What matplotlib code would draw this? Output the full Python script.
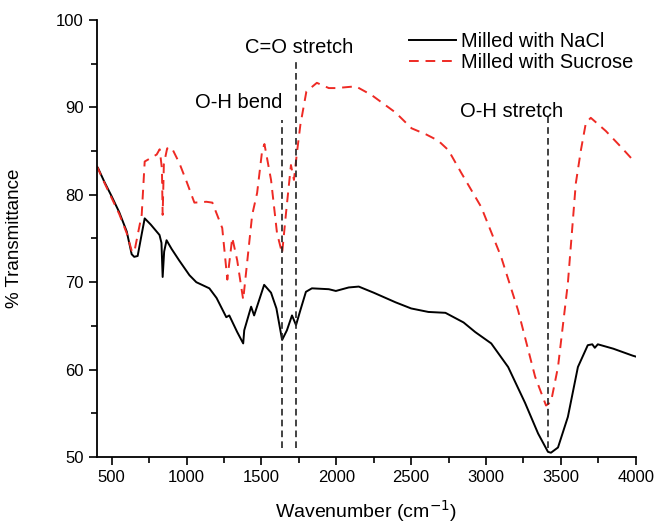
import matplotlib.pyplot as plt
from matplotlib.ticker import MultipleLocator

plt.rcParams['font.family'] = ['Liberation Sans', 'DejaVu Sans']

# Milled with NaCl (black)
nacl_x = [400, 407, 450, 500, 550, 600, 633, 650, 673, 700, 720, 760, 819, 832, 840, 850, 866,
          900, 950, 1019, 1065, 1152, 1200, 1265, 1285, 1338, 1378, 1385, 1431, 1451, 1518,
          1564, 1600, 1638, 1670, 1704, 1731, 1760, 1797, 1837, 1950, 1997, 2083, 2150, 2250,
          2396, 2500, 2615, 2729, 2850, 2928, 3035, 3148, 3261, 3348, 3414, 3434, 3481, 3547,
          3614, 3680, 3710, 3727, 3747, 3850, 3980, 4000]
nacl_y = [83.2, 83.1, 81.5, 79.8, 78.0, 75.8, 73.2, 72.9, 73.0, 75.5, 77.3, 76.6, 75.4, 74.5, 70.6,
          73.5, 74.8, 73.8, 72.5, 70.8, 70.0, 69.3, 68.2, 66.0, 66.2, 64.3, 63.0, 64.5, 67.2,
          66.2, 69.7, 68.8, 67.0, 63.4, 64.5, 66.2, 65.1, 66.8, 68.9, 69.3, 69.2, 69.0, 69.4,
          69.5, 68.8, 67.7, 67.0, 66.6, 66.5, 65.4, 64.3, 63.0, 60.3, 56.2, 52.7, 50.6, 50.5,
          51.1, 54.6, 60.3, 62.8, 62.9, 62.5, 62.9, 62.4, 61.6, 61.5]

# Milled with Sucrose (red dashed)
suc_x = [400, 450, 500, 550, 600, 633, 650, 680, 700, 720, 760, 800, 820, 835, 840, 848, 870,
         900, 952, 1000, 1052, 1132, 1172, 1238, 1272, 1305, 1338, 1378, 1438, 1471, 1505,
         1520, 1564, 1604, 1638, 1664, 1697, 1717, 1737, 1760, 1800, 1870, 1950, 2000, 2130,
         2236, 2396, 2503, 2600, 2680, 2749, 2835, 2968, 3101, 3214, 3328, 3401, 3434, 3481,
         3547, 3600, 3634, 3667, 3700, 3800, 3900, 3980, 4000]
suc_y = [83.3, 81.4, 79.6, 77.8, 75.6, 73.6, 73.4, 76.0, 77.7, 83.8, 84.2, 84.6, 85.2, 83.0, 77.7,
         83.5, 85.3, 85.4, 83.6, 81.5, 79.1, 79.2, 79.1, 76.2, 70.3, 75.1, 72.5, 68.0, 77.7,
         80.2, 85.1, 85.8, 81.7, 75.6, 73.3, 77.9, 83.4, 81.7, 84.8, 88.0, 91.8, 92.8, 92.2,
         92.2, 92.4, 91.4, 89.4, 87.6, 86.9, 86.2, 85.1, 82.5, 78.6, 72.9, 66.8, 59.2, 55.9,
         56.3, 60.3, 69.9, 81.3, 85.1, 88.2, 88.8, 87.3, 85.5, 84.0, 83.7]

# marker lines: wavenumber, top of line
mark_x = [1638, 1731, 3414]
mark_top = [88.6, 95.4, 89.0]
mark_bottom = 51

fig = plt.figure(figsize=(6.54, 5.23), dpi=100)
ax = fig.add_axes([0.148, 0.126, 0.824, 0.836])

ax.plot(nacl_x, nacl_y, color='black', lw=1.4, label='Milled with NaCl')
ax.plot(suc_x, suc_y, color='#ee2a24', lw=1.4, linestyle=(0, (5, 3.5)), label='Milled with Sucrose')

for x, top in zip(mark_x, mark_top):
    ax.plot([x, x], [mark_bottom, top], color='#222222', lw=1.2, linestyle=(0, (4, 2.5)))

ax.text(1638, 90.6, 'O-H bend', ha='right', va='center', fontsize=14.5)
ax.text(1750, 96.8, 'C=O stretch', ha='center', va='center', fontsize=14.5)
ax.text(3170, 89.5, 'O-H stretch', ha='center', va='center', fontsize=14.5)

ax.set_xlim(400, 4000)
ax.set_ylim(50, 100)
ax.xaxis.set_major_locator(MultipleLocator(500))
ax.xaxis.set_minor_locator(MultipleLocator(250))
ax.yaxis.set_major_locator(MultipleLocator(10))
ax.yaxis.set_minor_locator(MultipleLocator(5))
ax.tick_params(which='both', direction='out', labelsize=12, width=1.2)
ax.tick_params(which='major', length=6)
ax.tick_params(which='minor', length=4)
ax.spines['top'].set_visible(False)
ax.spines['right'].set_visible(False)
ax.spines['left'].set_linewidth(1.3)
ax.spines['bottom'].set_linewidth(1.3)

ax.set_xlabel('Wavenumber (cm$^{-1}$)', fontsize=14, labelpad=9)
ax.set_ylabel('% Transmittance', fontsize=13.5, labelpad=24)

ax.legend(loc='upper right', bbox_to_anchor=(1.01, 0.99), borderaxespad=0, frameon=False,
          fontsize=14.4, handlelength=2.35, handletextpad=0.25, labelspacing=0.1)

fig.savefig('out.png', dpi=100)
